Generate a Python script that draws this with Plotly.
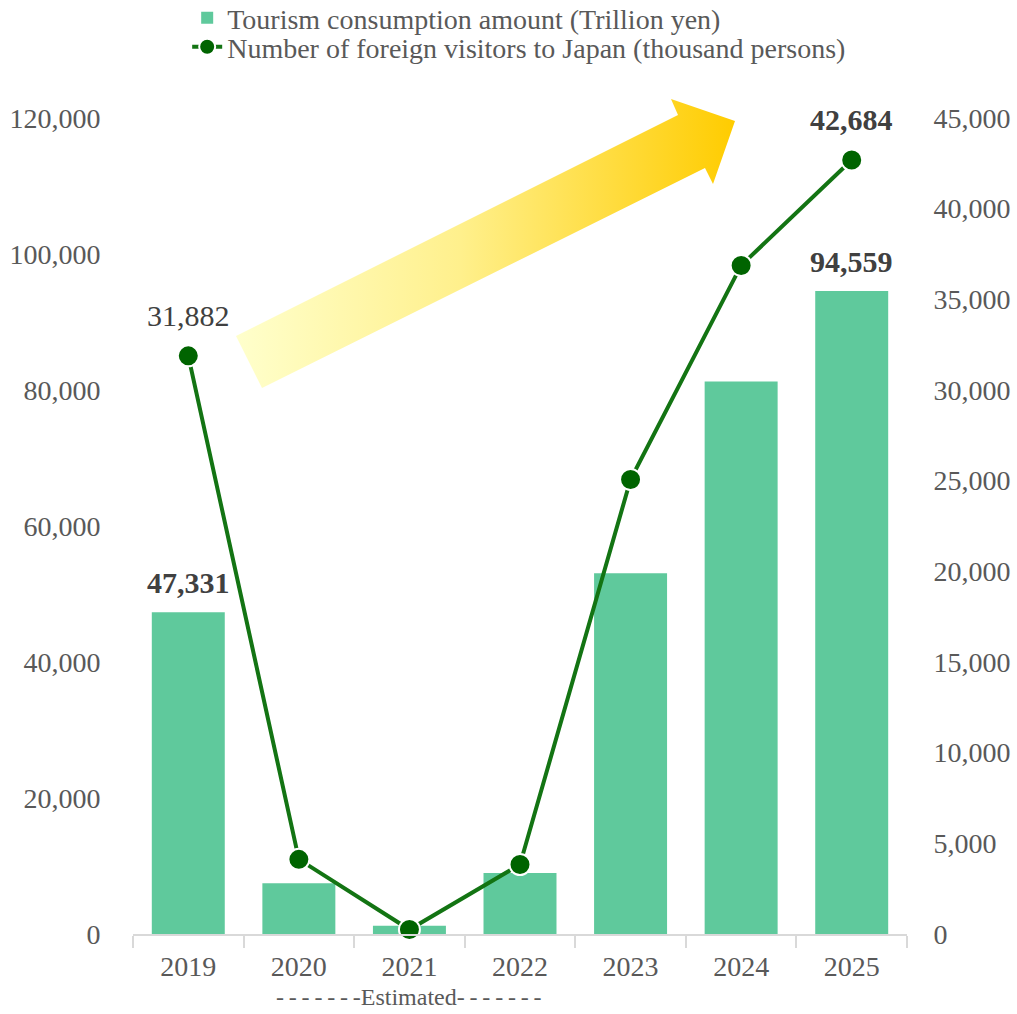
import base64
import plotly.graph_objects as go

years = ["2019", "2020", "2021", "2022", "2023", "2024", "2025"]
consumption = [47331, 7446, 1208, 8987, 53065, 81257, 94559]
visitors = [31882, 4116, 246, 3832, 25066, 36870, 42684]
consumption_labels = ["<b>47,331</b>", "", "", "", "", "", "<b>94,559</b>"]
visitor_labels = ["31,882", "", "", "", "", "", "<b>42,684</b>"]
left_ticks = [0, 20000, 40000, 60000, 80000, 100000, 120000]
right_ticks = [0, 5000, 10000, 15000, 20000, 25000, 30000, 35000, 40000, 45000]
estimated_text = "\u2009".join("-------") + "Estimated" + "\u2009".join("-------")

FONT = "Liberation Serif, Times New Roman, serif"
GRAY = "#595959"
DARK = "#404040"
BAR = "#5FC99C"
LINE = "#137413"
MARK = "#006400"

W, H = 1017, 1014
L, R, T, B = 133, 907, 118, 934

pos = list(range(len(years)))
bounds = [p - 0.5 for p in pos] + [pos[-1] + 0.5]

# decorative arrow (SVG image with gradient), outline in page pixels
arrow_pts = [(236, 336), (678, 115), (671, 99), (735, 121), (713, 184), (705, 168), (262, 388)]
ax0, ax1 = 236, 735
ay0, ay1 = 99, 388
pts = " ".join(f"{x},{y}" for x, y in arrow_pts)
svg = (f'<svg xmlns="http://www.w3.org/2000/svg" viewBox="{ax0} {ay0} {ax1-ax0} {ay1-ay0}" '
       f'width="{ax1-ax0}" height="{ay1-ay0}" preserveAspectRatio="none">'
       '<defs><linearGradient id="g" x1="0" y1="0" x2="1" y2="0">'
       '<stop offset="0" stop-color="#FFFFCC"/><stop offset="0.45" stop-color="#FFF08C"/>'
       '<stop offset="1" stop-color="#FFCC00"/></linearGradient></defs>'
       f'<polygon points="{pts}" fill="url(#g)"/></svg>')
svg_uri = "data:image/svg+xml;base64," + base64.b64encode(svg.encode()).decode()

fig = go.Figure()

fig.add_trace(go.Bar(
    x=pos, y=consumption, name="Tourism consumption amount (Trillion yen)",
    marker=dict(color=BAR, line=dict(width=0)), width=0.66, legend="legend",
))
fig.add_trace(go.Scatter(
    x=pos, y=visitors, name="Number of foreign visitors to Japan (thousand persons)",
    mode="lines+markers", yaxis="y2", legend="legend2",
    line=dict(color=LINE, width=4),
    marker=dict(color=MARK, size=21, line=dict(color="white", width=2)),
    cliponaxis=False,
))

annotations = []
for p, v, t in zip(pos, consumption, consumption_labels):
    if t:
        annotations.append(dict(x=p, y=v, xref="x", yref="y", text=t,
                                showarrow=False, yanchor="bottom", yshift=11,
                                font=dict(family=FONT, size=30, color=DARK)))
for p, v, t in zip(pos, visitors, visitor_labels):
    if t:
        annotations.append(dict(x=p, y=v, xref="x", yref="y2", text=t,
                                showarrow=False, yanchor="bottom", yshift=22,
                                font=dict(family=FONT, size=30, color=DARK)))
annotations.append(dict(x=pos[2], y=(B - 1012) / (B - T), xref="x", yref="paper",
                        text=estimated_text, showarrow=False, yanchor="bottom",
                        font=dict(family=FONT, size=24, color=GRAY)))

legend_common = dict(xanchor="left", yanchor="middle",
                     font=dict(family=FONT, size=28, color=GRAY),
                     bgcolor="rgba(0,0,0,0)", itemwidth=30)

pw, ph = R - L, B - T
fig.update_layout(
    width=W, height=H,
    margin=dict(l=L, r=W - R, t=T, b=H - B, autoexpand=False),
    paper_bgcolor="white", plot_bgcolor="white",
    font=dict(family=FONT, color=GRAY, size=28),
    showlegend=True,
    legend=dict(x=0.07, y=(B - 18) / ph, **legend_common),
    legend2=dict(x=0.07, y=(B - 47) / ph, **legend_common),
    xaxis=dict(range=[bounds[0], bounds[-1]], tickvals=pos, ticktext=years,
               showline=True, linecolor="#D9D9D9", linewidth=2,
               ticks="outside", ticklen=6, tickcolor="rgba(0,0,0,0)",
               showgrid=False, zeroline=False, tickangle=0,
               tickfont=dict(family=FONT, size=28, color=GRAY),
               minor=dict(tickvals=bounds, ticks="outside", ticklen=12,
                          tickcolor="#D9D9D9", tickwidth=2, showgrid=False)),
    yaxis=dict(range=[0, 120000], tickvals=left_ticks, tickformat=",", showgrid=False,
               zeroline=False, showline=False,
               ticks="outside", ticklen=26, tickcolor="rgba(0,0,0,0)",
               tickfont=dict(family=FONT, size=28, color=GRAY)),
    yaxis2=dict(range=[0, 45000], tickvals=right_ticks, tickformat=",", overlaying="y",
                side="right", showgrid=False, zeroline=False, showline=False,
                ticks="outside", ticklen=20, tickcolor="rgba(0,0,0,0)",
                tickfont=dict(family=FONT, size=28, color=GRAY)),
    images=[dict(source=svg_uri, xref="paper", yref="paper",
                 x=(ax0 - L) / pw, y=(B - ay0) / ph,
                 sizex=(ax1 - ax0) / pw, sizey=(ay1 - ay0) / ph,
                 xanchor="left", yanchor="top", sizing="stretch", layer="below")],
    annotations=annotations,
)

fig.write_html("out.html")
